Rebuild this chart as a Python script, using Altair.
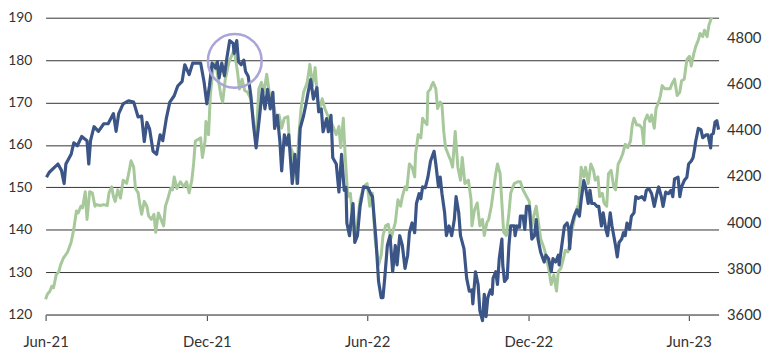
import altair as alt
import pandas as pd

FONT = "Lato"
BLUE = "#3b5586"
GREEN = "#a6c89a"
RING = "#aaa5d8"
TEXT = "#333333"

# Left-axis series (dark blue)
blue_series = [
    ("2021-06-02", 152.4), ("2021-06-05", 153.5), ("2021-06-11", 154.7), ("2021-06-15", 155.5),
    ("2021-06-19", 154.0), ("2021-06-22", 150.9), ("2021-06-24", 155.5), ("2021-06-30", 157.8),
    ("2021-07-03", 160.5), ("2021-07-07", 159.8), ("2021-07-12", 162.0), ("2021-07-18", 161.0),
    ("2021-07-20", 155.5), ("2021-07-22", 161.0), ("2021-07-26", 164.3), ("2021-07-31", 163.2),
    ("2021-08-06", 165.0), ("2021-08-11", 165.0), ("2021-08-17", 167.4), ("2021-08-20", 163.2),
    ("2021-08-23", 167.4), ("2021-08-28", 169.7), ("2021-09-03", 170.4), ("2021-09-09", 170.1),
    ("2021-09-14", 166.6), ("2021-09-18", 166.8), ("2021-09-21", 160.8), ("2021-09-24", 165.3),
    ("2021-09-27", 163.8), ("2021-10-01", 158.5), ("2021-10-05", 157.8), ("2021-10-09", 162.4),
    ("2021-10-12", 161.0), ("2021-10-16", 166.2), ("2021-10-20", 170.1), ("2021-10-25", 171.6),
    ("2021-10-29", 173.9), ("2021-11-03", 175.0), ("2021-11-06", 178.9), ("2021-11-11", 176.6),
    ("2021-11-15", 179.3), ("2021-11-24", 179.3), ("2021-11-28", 174.7), ("2021-12-01", 169.7),
    ("2021-12-04", 173.9), ("2021-12-07", 179.3), ("2021-12-11", 178.1), ("2021-12-13", 179.6),
    ("2021-12-15", 175.8), ("2021-12-18", 179.3), ("2021-12-21", 176.3), ("2021-12-24", 180.8),
    ("2021-12-27", 184.6), ("2021-12-31", 183.9), ("2022-01-01", 181.6), ("2022-01-04", 184.6),
    ("2022-01-06", 179.6), ("2022-01-09", 178.9), ("2022-01-12", 180.0), ("2022-01-14", 177.3),
    ("2022-01-17", 176.2), ("2022-01-20", 171.6), ("2022-01-23", 164.7), ("2022-01-26", 159.3),
    ("2022-01-30", 167.0), ("2022-02-02", 173.1), ("2022-02-05", 168.5), ("2022-02-08", 173.1),
    ("2022-02-11", 168.5), ("2022-02-14", 172.4), ("2022-02-16", 163.9), ("2022-02-19", 167.0),
    ("2022-02-22", 160.8), ("2022-02-24", 153.9), ("2022-02-27", 162.4), ("2022-03-02", 160.1),
    ("2022-03-04", 162.4), ("2022-03-08", 150.9), ("2022-03-11", 157.8), ("2022-03-14", 150.9),
    ("2022-03-17", 163.9), ("2022-03-21", 167.0), ("2022-03-24", 170.1), ("2022-03-26", 172.4),
    ("2022-03-29", 175.4), ("2022-04-01", 170.8), ("2022-04-05", 173.5), ("2022-04-07", 167.8),
    ("2022-04-10", 168.5), ("2022-04-12", 163.1), ("2022-04-16", 166.2), ("2022-04-18", 163.1),
    ("2022-04-21", 167.0), ("2022-04-23", 157.0), ("2022-04-27", 155.5), ("2022-04-30", 148.9),
    ("2022-05-03", 157.8), ("2022-05-06", 149.3), ("2022-05-08", 150.0), ("2022-05-09", 141.6),
    ("2022-05-12", 138.6), ("2022-05-16", 146.2), ("2022-05-18", 137.0), ("2022-05-21", 138.6),
    ("2022-05-24", 145.5), ("2022-05-28", 150.1), ("2022-06-02", 149.9), ("2022-06-05", 148.5),
    ("2022-06-07", 147.8), ("2022-06-11", 137.8), ("2022-06-14", 127.8), ("2022-06-17", 124.0),
    ("2022-06-19", 124.0), ("2022-06-21", 128.6), ("2022-06-24", 136.3), ("2022-06-27", 138.6),
    ("2022-06-30", 130.1), ("2022-07-03", 136.3), ("2022-07-05", 131.7), ("2022-07-08", 138.6),
    ("2022-07-11", 136.3), ("2022-07-14", 130.9), ("2022-07-17", 134.0), ("2022-07-19", 139.3),
    ("2022-07-22", 141.6), ("2022-07-25", 139.3), ("2022-07-27", 146.2), ("2022-07-30", 148.5),
    ("2022-08-01", 147.3), ("2022-08-03", 150.1), ("2022-08-06", 149.9), ("2022-08-09", 152.4),
    ("2022-08-12", 156.2), ("2022-08-16", 158.5), ("2022-08-18", 155.5), ("2022-08-21", 150.1),
    ("2022-08-23", 152.4), ("2022-08-25", 148.5), ("2022-08-28", 144.0), ("2022-08-30", 138.6),
    ("2022-09-02", 140.9), ("2022-09-05", 138.6), ("2022-09-08", 142.4), ("2022-09-10", 147.8),
    ("2022-09-13", 144.0), ("2022-09-15", 138.6), ("2022-09-19", 135.5), ("2022-09-22", 128.6),
    ("2022-09-25", 125.5), ("2022-09-28", 125.8), ("2022-09-29", 122.5), ("2022-10-02", 130.1),
    ("2022-10-05", 127.1), ("2022-10-07", 120.9), ("2022-10-10", 118.6), ("2022-10-12", 124.8),
    ("2022-10-14", 119.5), ("2022-10-16", 124.0), ("2022-10-19", 125.8), ("2022-10-21", 124.8),
    ("2022-10-22", 128.6), ("2022-10-25", 130.1), ("2022-10-27", 127.1), ("2022-10-29", 133.2),
    ("2022-11-01", 137.8), ("2022-11-02", 131.7), ("2022-11-04", 127.8), ("2022-11-07", 128.6),
    ("2022-11-09", 136.3), ("2022-11-11", 140.9), ("2022-11-15", 140.9), ("2022-11-16", 138.6),
    ("2022-11-18", 140.9), ("2022-11-21", 140.6), ("2022-11-22", 143.2), ("2022-11-25", 143.2),
    ("2022-11-27", 140.1), ("2022-11-29", 145.5), ("2022-12-02", 145.5), ("2022-12-05", 137.8),
    ("2022-12-08", 138.6), ("2022-12-10", 142.4), ("2022-12-12", 137.8), ("2022-12-15", 134.7),
    ("2022-12-19", 132.4), ("2022-12-21", 134.0), ("2022-12-24", 133.2), ("2022-12-27", 130.1),
    ("2022-12-29", 133.2), ("2023-01-01", 132.4), ("2023-01-04", 134.0), ("2023-01-05", 131.7),
    ("2023-01-08", 136.3), ("2023-01-11", 140.9), ("2023-01-14", 141.6), ("2023-01-16", 140.1),
    ("2023-01-17", 135.5), ("2023-01-19", 140.9), ("2023-01-22", 143.2), ("2023-01-25", 144.7),
    ("2023-01-28", 143.2), ("2023-01-30", 147.0), ("2023-02-02", 151.6), ("2023-02-04", 150.1),
    ("2023-02-07", 146.2), ("2023-02-09", 149.3), ("2023-02-11", 146.2), ("2023-02-14", 146.2),
    ("2023-02-17", 145.5), ("2023-02-19", 145.5), ("2023-02-22", 140.9), ("2023-02-24", 144.0),
    ("2023-02-27", 140.1), ("2023-03-01", 138.6), ("2023-03-04", 144.0), ("2023-03-06", 140.9),
    ("2023-03-08", 138.6), ("2023-03-10", 136.3), ("2023-03-12", 133.6), ("2023-03-14", 137.0),
    ("2023-03-17", 137.8), ("2023-03-19", 139.3), ("2023-03-21", 138.6), ("2023-03-23", 141.6),
    ("2023-03-26", 140.1), ("2023-03-28", 143.2), ("2023-03-31", 144.0), ("2023-04-02", 147.8),
    ("2023-04-05", 147.4), ("2023-04-09", 147.8), ("2023-04-12", 147.0), ("2023-04-14", 149.3),
    ("2023-04-17", 149.7), ("2023-04-20", 148.5), ("2023-04-23", 145.5), ("2023-04-26", 148.5),
    ("2023-04-28", 150.1), ("2023-05-01", 147.8), ("2023-05-03", 145.5), ("2023-05-06", 148.9),
    ("2023-05-09", 148.5), ("2023-05-12", 149.3), ("2023-05-14", 147.8), ("2023-05-16", 152.0),
    ("2023-05-20", 152.4), ("2023-05-22", 147.8), ("2023-05-24", 150.1), ("2023-05-27", 151.6),
    ("2023-05-30", 152.4), ("2023-06-01", 155.5), ("2023-06-04", 156.2), ("2023-06-06", 157.0),
    ("2023-06-08", 159.3), ("2023-06-09", 160.8), ("2023-06-12", 163.9), ("2023-06-15", 163.6),
    ("2023-06-17", 161.7), ("2023-06-21", 162.4), ("2023-06-23", 162.4), ("2023-06-26", 159.3),
    ("2023-06-27", 162.4), ("2023-06-29", 162.7), ("2023-07-01", 165.4), ("2023-07-03", 165.7),
    ("2023-07-05", 163.6),
]

# Right-axis series (light green)
green_series = [
    ("2021-06-01", 3666), ("2021-06-03", 3688), ("2021-06-06", 3702), ("2021-06-08", 3723),
    ("2021-06-10", 3716), ("2021-06-13", 3772), ("2021-06-16", 3786), ("2021-06-18", 3815),
    ("2021-06-21", 3843), ("2021-06-26", 3871), ("2021-06-30", 3913), ("2021-07-03", 3970),
    ("2021-07-06", 4048), ("2021-07-08", 4040), ("2021-07-11", 4069), ("2021-07-13", 4062),
    ("2021-07-16", 4132), ("2021-07-18", 4012), ("2021-07-21", 4132), ("2021-07-24", 4127),
    ("2021-07-27", 4069), ("2021-07-29", 4076), ("2021-08-02", 4072), ("2021-08-06", 4076),
    ("2021-08-10", 4072), ("2021-08-12", 4127), ("2021-08-15", 4153), ("2021-08-17", 4111),
    ("2021-08-19", 4090), ("2021-08-22", 4140), ("2021-08-25", 4104), ("2021-08-28", 4182),
    ("2021-09-01", 4168), ("2021-09-04", 4224), ("2021-09-06", 4266), ("2021-09-09", 4238),
    ("2021-09-11", 4146), ("2021-09-14", 4127), ("2021-09-16", 4076), ("2021-09-18", 4034),
    ("2021-09-21", 4090), ("2021-09-24", 4069), ("2021-09-26", 4026), ("2021-09-29", 4012),
    ("2021-10-02", 4034), ("2021-10-04", 3956), ("2021-10-07", 4040), ("2021-10-10", 4012),
    ("2021-10-13", 3984), ("2021-10-15", 4069), ("2021-10-18", 4104), ("2021-10-21", 4146),
    ("2021-10-23", 4140), ("2021-10-25", 4196), ("2021-10-28", 4146), ("2021-11-01", 4175),
    ("2021-11-05", 4153), ("2021-11-08", 4175), ("2021-11-11", 4127), ("2021-11-14", 4182),
    ("2021-11-16", 4252), ("2021-11-18", 4351), ("2021-11-21", 4358), ("2021-11-24", 4365),
    ("2021-11-26", 4280), ("2021-11-29", 4351), ("2021-11-30", 4436), ("2021-12-03", 4379),
    ("2021-12-05", 4548), ("2021-12-08", 4662), ("2021-12-11", 4690), ("2021-12-14", 4619),
    ("2021-12-17", 4548), ("2021-12-19", 4520), ("2021-12-22", 4619), ("2021-12-26", 4690),
    ("2022-01-01", 4746), ("2022-01-05", 4647), ("2022-01-07", 4576), ("2022-01-10", 4619),
    ("2022-01-13", 4570), ("2022-01-16", 4563), ("2022-01-20", 4534), ("2022-01-23", 4436),
    ("2022-01-26", 4351), ("2022-01-29", 4576), ("2022-02-01", 4605), ("2022-02-04", 4563),
    ("2022-02-07", 4640), ("2022-02-11", 4534), ("2022-02-15", 4506), ("2022-02-18", 4436),
    ("2022-02-21", 4464), ("2022-02-24", 4407), ("2022-02-27", 4450), ("2022-03-03", 4457),
    ("2022-03-05", 4337), ("2022-03-09", 4294), ("2022-03-13", 4167), ("2022-03-15", 4351),
    ("2022-03-18", 4492), ("2022-03-21", 4563), ("2022-03-25", 4605), ("2022-03-28", 4683),
    ("2022-03-31", 4591), ("2022-04-03", 4669), ("2022-04-06", 4520), ("2022-04-08", 4492),
    ("2022-04-11", 4534), ("2022-04-14", 4492), ("2022-04-17", 4464), ("2022-04-21", 4436),
    ("2022-04-24", 4407), ("2022-04-27", 4379), ("2022-04-30", 4414), ("2022-05-02", 4323),
    ("2022-05-05", 4450), ("2022-05-07", 4294), ("2022-05-10", 4111), ("2022-05-13", 4125),
    ("2022-05-16", 3998), ("2022-05-18", 3928), ("2022-05-21", 3998), ("2022-05-24", 4097),
    ("2022-05-28", 4153), ("2022-06-01", 4167), ("2022-06-04", 4069), ("2022-06-07", 4125),
    ("2022-06-10", 3928), ("2022-06-14", 3815), ("2022-06-17", 3857), ("2022-06-19", 3942),
    ("2022-06-22", 3984), ("2022-06-25", 3991), ("2022-06-28", 3928), ("2022-06-30", 3956),
    ("2022-07-03", 3998), ("2022-07-06", 4097), ("2022-07-09", 4069), ("2022-07-11", 4111),
    ("2022-07-14", 4153), ("2022-07-16", 4140), ("2022-07-19", 4252), ("2022-07-22", 4238),
    ("2022-07-25", 4196), ("2022-07-26", 4294), ("2022-07-29", 4379), ("2022-08-01", 4365),
    ("2022-08-03", 4450), ("2022-08-05", 4436), ("2022-08-08", 4422), ("2022-08-09", 4563),
    ("2022-08-12", 4577), ("2022-08-13", 4591), ("2022-08-15", 4605), ("2022-08-18", 4577),
    ("2022-08-20", 4492), ("2022-08-23", 4520), ("2022-08-25", 4506), ("2022-08-27", 4393),
    ("2022-08-29", 4323), ("2022-09-01", 4294), ("2022-09-04", 4266), ("2022-09-06", 4238),
    ("2022-09-09", 4393), ("2022-09-12", 4238), ("2022-09-15", 4182), ("2022-09-17", 4280),
    ("2022-09-20", 4167), ("2022-09-24", 4182), ("2022-09-27", 4097), ("2022-09-28", 3984),
    ("2022-10-01", 4055), ("2022-10-04", 4083), ("2022-10-07", 3984), ("2022-10-10", 4012),
    ("2022-10-12", 3942), ("2022-10-15", 3998), ("2022-10-17", 4012), ("2022-10-20", 4069),
    ("2022-10-22", 4125), ("2022-10-25", 4210), ("2022-10-27", 4252), ("2022-10-30", 4210),
    ("2022-11-01", 4083), ("2022-11-03", 3956), ("2022-11-06", 3942), ("2022-11-09", 4040),
    ("2022-11-11", 4125), ("2022-11-15", 4167), ("2022-11-19", 4175), ("2022-11-22", 4175),
    ("2022-11-25", 4140), ("2022-11-29", 4111), ("2022-12-02", 4090), ("2022-12-05", 3984),
    ("2022-12-08", 4040), ("2022-12-10", 4069), ("2022-12-12", 4012), ("2022-12-15", 3928),
    ("2022-12-19", 3886), ("2022-12-21", 3857), ("2022-12-24", 3801), ("2022-12-27", 3730),
    ("2022-12-30", 3772), ("2023-01-02", 3702), ("2023-01-04", 3786), ("2023-01-07", 3801),
    ("2023-01-09", 3829), ("2023-01-12", 3878), ("2023-01-15", 3871), ("2023-01-18", 3928),
    ("2023-01-20", 3970), ("2023-01-23", 4026), ("2023-01-26", 4069), ("2023-01-27", 4055),
    ("2023-01-30", 4238), ("2023-02-02", 4196), ("2023-02-04", 4238), ("2023-02-07", 4167),
    ("2023-02-10", 4252), ("2023-02-13", 4224), ("2023-02-15", 4182), ("2023-02-18", 4196),
    ("2023-02-20", 4111), ("2023-02-23", 4125), ("2023-02-25", 4083), ("2023-02-28", 4069),
    ("2023-03-02", 4210), ("2023-03-05", 4224), ("2023-03-08", 4153), ("2023-03-10", 4140),
    ("2023-03-13", 4252), ("2023-03-15", 4266), ("2023-03-18", 4294), ("2023-03-21", 4337),
    ("2023-03-24", 4323), ("2023-03-27", 4351), ("2023-03-29", 4421), ("2023-03-31", 4450),
    ("2023-04-03", 4421), ("2023-04-06", 4421), ("2023-04-09", 4407), ("2023-04-11", 4337),
    ("2023-04-12", 4436), ("2023-04-15", 4464), ("2023-04-18", 4436), ("2023-04-20", 4464),
    ("2023-04-23", 4407), ("2023-04-25", 4492), ("2023-04-28", 4520), ("2023-04-30", 4548),
    ("2023-05-02", 4591), ("2023-05-05", 4577), ("2023-05-08", 4577), ("2023-05-11", 4577),
    ("2023-05-13", 4598), ("2023-05-16", 4619), ("2023-05-19", 4548), ("2023-05-22", 4563),
    ("2023-05-24", 4612), ("2023-05-27", 4619), ("2023-05-30", 4704), ("2023-06-02", 4718),
    ("2023-06-04", 4676), ("2023-06-07", 4732), ("2023-06-09", 4760), ("2023-06-12", 4788),
    ("2023-06-14", 4817), ("2023-06-17", 4803), ("2023-06-19", 4831), ("2023-06-22", 4803),
    ("2023-06-24", 4852), ("2023-06-27", 4885),
]

left_ticks = [120, 130, 140, 150, 160, 170, 180, 190]
right_ticks = [3600, 3800, 4000, 4200, 4400, 4600, 4800]
x_tick_dates = ["2021-06-01", "2021-12-01", "2022-06-01", "2022-12-01", "2023-06-01"]
x_domain_dates = ["2021-06-01", "2023-07-05"]
left_domain = [120, 190]
right_domain = [3600, 4885]
highlight = [("2022-01-01T18:00:00", 179.8)]


def to_dt(s):
    t = pd.Timestamp(s)
    return alt.DateTime(year=t.year, month=t.month, date=t.day, hours=t.hour)


blue_df = pd.DataFrame(blue_series, columns=["date", "value"])
blue_df["date"] = pd.to_datetime(blue_df["date"])
green_df = pd.DataFrame(green_series, columns=["date", "value"])
green_df["date"] = pd.to_datetime(green_df["date"])
ring_df = pd.DataFrame(highlight, columns=["date", "value"])
ring_df["date"] = pd.to_datetime(ring_df["date"])

x_axis = alt.Axis(
    values=[to_dt(d) for d in x_tick_dates], format="%b-%y", title=None,
    grid=False, ticks=True, tickSize=6, tickColor="#555555", tickWidth=1.2,
    domain=True, domainColor="#8a8a8a", domainWidth=1.8,
    labelFont=FONT, labelFontSize=15, labelColor=TEXT, labelPadding=14,
    labelFlush=False, labelOverlap=False,
)
x_enc = alt.X("date:T", scale=alt.Scale(domain=[to_dt(d) for d in x_domain_dates]), axis=x_axis)

green = alt.Chart(green_df).mark_line(color=GREEN, strokeWidth=3, strokeJoin="round").encode(
    x=x_enc,
    y=alt.Y("value:Q", scale=alt.Scale(domain=right_domain, nice=False, zero=False),
            axis=alt.Axis(orient="right", values=right_ticks, format="d", title=None, grid=False,
                          ticks=False, domain=False, labelFont=FONT, labelFontSize=15,
                          labelColor=TEXT, labelPadding=8)),
)

blue = alt.Chart(blue_df).mark_line(color=BLUE, strokeWidth=3.2, strokeJoin="round").encode(
    x=x_enc,
    y=alt.Y("value:Q", scale=alt.Scale(domain=left_domain, nice=False, zero=False),
            axis=alt.Axis(orient="left", values=left_ticks, title=None, grid=True,
                          gridColor="#333333", gridWidth=1, ticks=False, domain=False,
                          labelFont=FONT, labelFontSize=14, labelColor=TEXT, labelPadding=14)),
)

ring = alt.Chart(ring_df).mark_point(shape="circle", filled=False, size=2950,
                                     strokeWidth=2.6, color=RING, opacity=1).encode(
    x=x_enc,
    y=alt.Y("value:Q", scale=alt.Scale(domain=left_domain, nice=False, zero=False), axis=None),
)

chart = alt.layer(green, blue, ring).resolve_scale(y="independent").properties(
    width=680, height=300,
    autosize=alt.AutoSizeParams(type="none"),
    padding={"left": 38, "top": 8, "right": 56, "bottom": 36},
).configure_view(stroke=None)

chart.save("out.html", embed_options={"renderer": "svg", "actions": False})
